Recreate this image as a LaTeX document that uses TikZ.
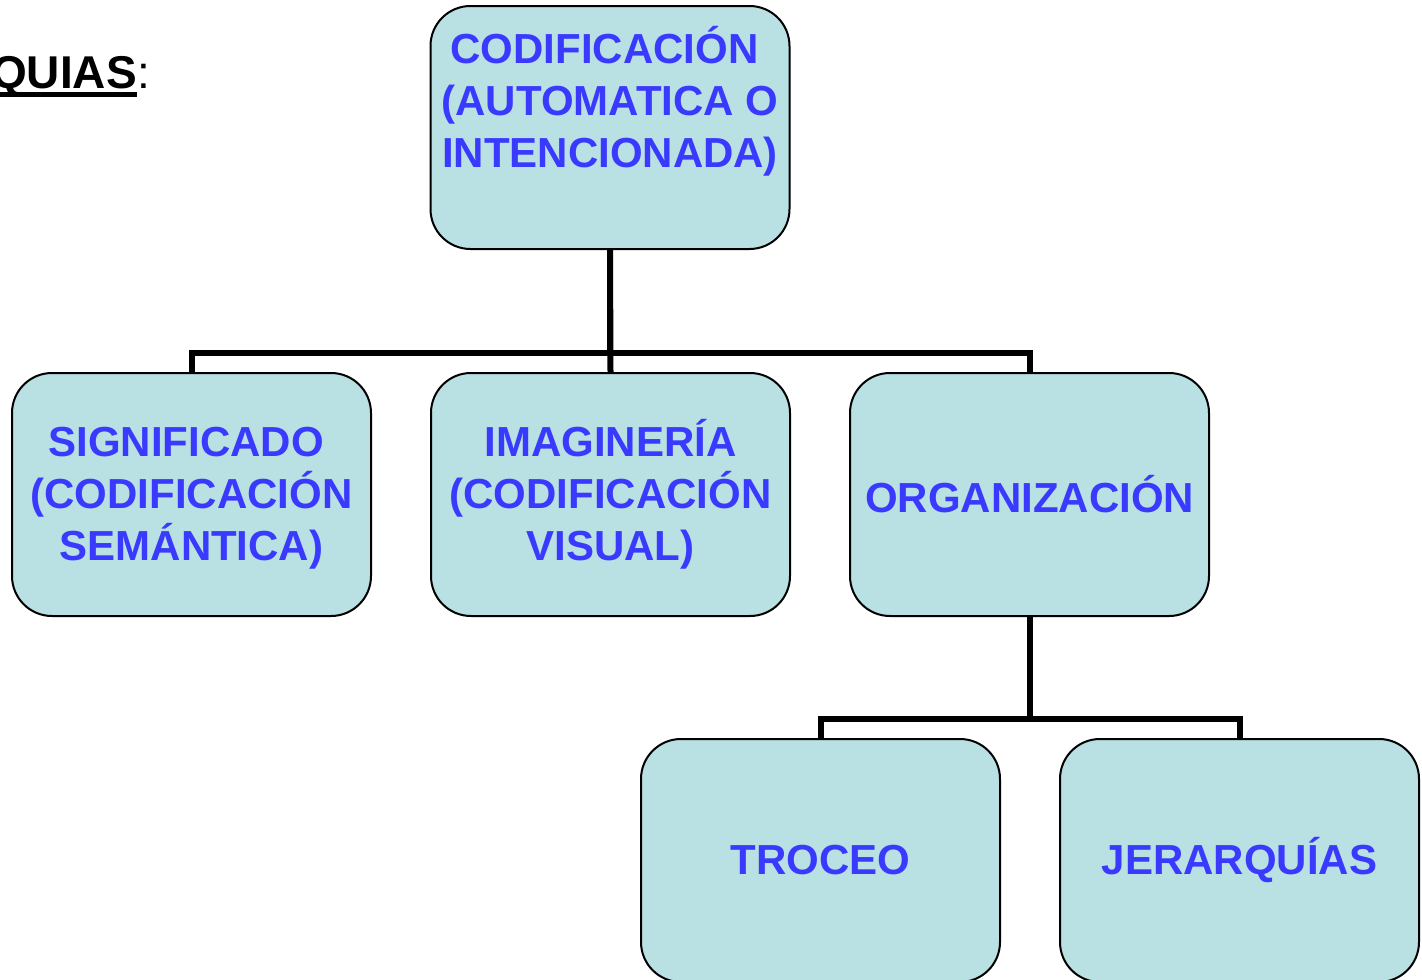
\documentclass[tikz,border=0pt]{standalone}
\usepackage{fontspec}
\setmainfont{Liberation Sans}
\usetikzlibrary{calc}
\definecolor{boxfill}{RGB}{185,224,227}
\definecolor{txtblue}{RGB}{58,58,255}
\tikzset{
  box/.style={draw=black, line width=2pt, fill=boxfill, rounded corners=40pt,
    minimum width=359pt, minimum height=243pt, inner sep=0pt, align=center,
    text=txtblue, font=\fontsize{42}{52}\selectfont\bfseries},
  conn/.style={draw=black, line width=6pt}
}
\begin{document}
\begin{tikzpicture}[x=1pt,y=-1pt]
\useasboundingbox (0,0) rectangle (1422,980);
\clip (0,0) rectangle (1422,980);
% title fragment
\node[anchor=base east, inner sep=0pt, font=\fontsize{46}{52}\selectfont\bfseries] (q) at (137,88) {QUIAS};
\node[anchor=base west, inner sep=0pt, font=\fontsize{46}{52}\selectfont] (colon) at (q.base east) {:};
\draw[line width=5pt] ($(q.base west)+(-60,6)$) -- ($(q.base east)+(0,6)$);
% boxes
\node[box] (top) at (610,127.5) {CODIFICACIÓN\hspace*{11pt}\\(AUTOMATICA O\\INTENCIONADA)\\[10pt]\mbox{}};
\node[box] (sig) at (191.5,494.5) {\vphantom{Í}SIGNIFICADO\hspace*{11pt}\\(CODIFICACIÓN\\SEMÁNTICA)};
\node[box] (ima) at (610.5,494.5) {IMAGINERÍA\\(CODIFICACIÓN\\VISUAL)};
\node[box] (org) at (1029.5,494.5) {ORGANIZACIÓN};
\node[box] (tro) at (820.5,860.5) {TROCEO};
\node[box] (jer) at (1239.5,860.5) {JERARQUÍAS};
% connectors
\draw[conn] (top.south) -- ++(0,103) -| (sig.north);
\draw[conn] (top.south) -- ++(0,103) -| (org.north);
\draw[conn] (top.south) -- (ima.north);
\draw[conn] (org.south) -- ++(0,102) -| (tro.north);
\draw[conn] (org.south) -- ++(0,102) -| (jer.north);
\end{tikzpicture}
\end{document}
